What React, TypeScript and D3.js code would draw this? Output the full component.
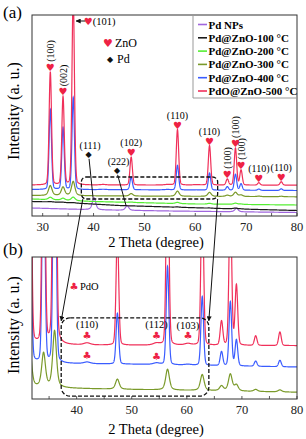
import React from "react";
import * as d3 from "d3";

// ---------------- data ----------------
const zincPeaks = [31.5, 34.0, 36.0, 47.4, 56.5, 62.8, 66.3, 67.9, 69.0, 72.5, 76.9];
const zincLabels = ["(100)", "(002)", "(101)", "(102)", "(110)", "(110)", "(100)", "(100)", "(100)", "(110)", "(110)"];
const pdPeaks = [40.1, 46.6, 68.1];
const pdLabels = ["(111)", "(222)"];
const pdoPeaks = [41.9, 54.5, 60.2];
const pdoLabels = ["(110)", "(112)", "(103)"];
const pdoOnBlue = [true, true, false];

const seriesNames = ["Pd NPs", "Pd@ZnO-100 °C", "Pd@ZnO-200 °C", "Pd@ZnO-300 °C", "Pd@ZnO-400 °C", "PdO@ZnO-500 °C"];

// peak heights above baseline (intensity units) at zincPeaks
const zinc500 = [113, 88, 190, 28, 55.5, 39.5, 6, 37, 15, 2.4, 3.4];
const zinc400 = [80, 62, 92, 12.7, 24.6, 17.2, 3.5, 16, 6.5, 1.3, 1.6];
const zinc300 = [10, 8.5, 14.2, 2.5, 5.2, 4, 1.2, 4.2, 1.5, 0.5, 0.5];
const zinc200 = [2.5, 2, 3.5, 0.4, 1.2, 0.8, 0.2, 1.2, 0.4, 0, 0];
const zinc100 = [0.3, 0.3, 0.4, 0, 0.3, 0.2, 0, 0.8, 0.2, 0, 0];
const pdNPs = [12, 4.5, 3.5];
const pdo500 = [0.5, 0.5, 0.4];
const pdo400 = [0.4, 0.4, 0.2];

// baselines: [2θ, intensity]
const base500 = [[27.9, 31], [80, 30.85]];
const base400 = [[27.9, 26.5], [50, 26.2], [80, 25.5]];
const base300 = [[27.9, 20.5], [45, 20], [80, 19.2]];
const base200 = [[27.9, 17], [40, 14.5], [60, 12], [80, 11]];
const base100 = [[27.9, 14.5], [32, 14], [38, 12.5], [45, 10.5], [55, 9], [65, 7.5], [80, 5.5]];
const basePd = [[27.9, 8], [40, 6.2], [55, 5], [80, 3.5]];

const xTicks = [30, 40, 50, 60, 70, 80];
const xTicksB = [40, 50, 60, 70, 80];

// ---------------- styles ----------------
const colors = ["#a066dd", "#1a1a1a", "#55ee33", "#7a9a2a", "#3a5cff", "#f0305a"];
const serif = "'Liberation Serif', 'Times New Roman', serif";
const sym = "'DejaVu Sans', sans-serif";
const heartColor = "#ee2244";

type Group = { pos: number[]; h: number[]; gamma: number; eta: number };
type Series = { name: string; color: string; base: number[][]; groups: Group[] };

const series: Series[] = [
  { name: seriesNames[0], color: colors[0], base: basePd, groups: [{ pos: pdPeaks, h: pdNPs, gamma: 0.4, eta: 0.5 }] },
  { name: seriesNames[1], color: colors[1], base: base100, groups: [{ pos: zincPeaks, h: zinc100, gamma: 0.5, eta: 0.5 }] },
  { name: seriesNames[2], color: colors[2], base: base200, groups: [{ pos: zincPeaks, h: zinc200, gamma: 0.45, eta: 0.5 }] },
  { name: seriesNames[3], color: colors[3], base: base300, groups: [{ pos: zincPeaks, h: zinc300, gamma: 0.4, eta: 0.5 }] },
  {
    name: seriesNames[4], color: colors[4], base: base400,
    groups: [
      { pos: zincPeaks, h: zinc400, gamma: 0.28, eta: 0.15 },
      { pos: pdoPeaks, h: pdo400, gamma: 0.7, eta: 0.5 },
    ],
  },
  {
    name: seriesNames[5], color: colors[5], base: base500,
    groups: [
      { pos: zincPeaks, h: zinc500, gamma: 0.28, eta: 0.15 },
      { pos: pdoPeaks, h: pdo500, gamma: 0.7, eta: 0.5 },
    ],
  },
];

function pv(d: number, g: number, eta: number) {
  const r = (d / g) * (d / g);
  return eta / (1 + r) + (1 - eta) * Math.exp(-Math.LN2 * r);
}

function valueAt(s: Series, t: number) {
  const bl = d3.scaleLinear().domain(s.base.map((k) => k[0])).range(s.base.map((k) => k[1]));
  let v = bl(t);
  s.groups.forEach((g) => g.pos.forEach((p, i) => (v += g.h[i] * pv(t - p, g.gamma, g.eta))));
  return v;
}

const grid = d3.range(27.9, 80.0001, 0.02);

export default function App() {
  const xA = d3.scaleLinear().domain([27.9, 80]).range([32, 297]);
  const yA = d3.scaleLinear().domain([0, 201]).range([216, 15]);
  const xB = d3.scaleLinear().domain([31.9, 80]).range([32, 297]);
  const yB = d3.scaleLinear().domain([17.5, 53]).range([399, 257]);

  const curves = series.map((s) => grid.map((t) => [t, valueAt(s, t)] as [number, number]));
  const lineA = d3.line<[number, number]>().x((d) => xA(d[0])).y((d) => yA(d[1]));
  const lineB = d3.line<[number, number]>().x((d) => xB(d[0])).y((d) => yB(d[1]));

  const red = series[5];
  const blue = series[4];
  const violet = series[0];

  // dashed zoom boxes (2θ range, intensity range)
  const boxA = { t: [37.6, 64.4], i: [17, 39] };
  const boxB = { t: [37.2, 64.0], i: [18.2, 37.8] };

  const aL = xA(boxA.t[0]), aR = xA(boxA.t[1]), aT = yA(boxA.i[1]), aBt = yA(boxA.i[0]);
  const bL = xB(boxB.t[0]), bR = xB(boxB.t[1]), bT = yB(boxB.i[1]), bBt = yB(boxB.i[0]);

  const vertical = [0, 1, 6, 7, 8];

  return (
    <svg width={306} height={439} style={{ position: "absolute", left: 0, top: 0, background: "#fff" }}>
      <defs>
        <clipPath id="clipA"><rect x={32} y={15} width={265} height={201} /></clipPath>
        <clipPath id="clipB"><rect x={32} y={257} width={265} height={142} /></clipPath>
        <marker id="arr" viewBox="0 0 10 10" refX="9" refY="5" markerWidth="5" markerHeight="5" orient="auto">
          <path d="M0,0 L10,5 L0,10 z" fill="#111" />
        </marker>
      </defs>

      {/* ---------- Panel (a) ---------- */}
      <text x={3} y={18} fontFamily={serif} fontSize={17}>(a)</text>
      <g clipPath="url(#clipA)">
        {curves.map((c, i) => (
          <path key={i} d={lineA(c) || ""} fill="none" stroke={series[i].color} strokeWidth={1.2} />
        ))}
      </g>
      <rect x={32} y={15} width={265} height={201} fill="none" stroke="#333" strokeWidth={1} />
      {d3.range(30, 80.1, 5).map((t) => (
        <line key={t} x1={xA(t)} x2={xA(t)} y1={216} y2={213} stroke="#333" strokeWidth={0.8} />
      ))}
      {xTicks.map((t) => (
        <text key={t} x={xA(t)} y={230.5} textAnchor="middle" fontFamily={serif} fontSize={12.5} fill="#222">{t}</text>
      ))}
      <text x={156} y={247} textAnchor="middle" fontFamily={serif} fontSize={14.5}>2 Theta (degree)</text>
      <text transform="translate(19,111) rotate(-90)" textAnchor="middle" fontFamily={serif} fontSize={16}>Intensity (a. u.)</text>

      {/* legend */}
      <path d={`M193,15 V98 H297`} fill="none" stroke="#999" strokeWidth={1} />
      {series.map((s, i) => (
        <g key={i} transform={`translate(0,${24.5 + i * 13.3})`}>
          <line x1={198} x2={207} y1={0} y2={0} stroke={s.color} strokeWidth={1.6} />
          <text x={208.5} y={4} fontFamily={serif} fontWeight="bold" fontSize={11}>{s.name}</text>
        </g>
      ))}

      {/* phase key */}
      <text x={108} y={43} textAnchor="middle" dominantBaseline="central" fontFamily={sym} fontSize={11} fill={heartColor}>♥</text>
      <text x={115} y={47} fontFamily={serif} fontSize={12}>ZnO</text>
      <text x={110} y={59} textAnchor="middle" dominantBaseline="central" fontFamily={sym} fontSize={8} fill="#111">◆</text>
      <text x={117} y={63} fontFamily={serif} fontSize={12}>Pd</text>

      {/* ZnO peak labels */}
      {zincPeaks.map((p, i) => {
        const px = xA(p);
        if (i === 2) {
          return (
            <g key={i}>
              <line x1={px + 12} x2={px + 3} y1={21} y2={21} stroke="#111" strokeWidth={1} markerEnd="url(#arr)" />
              <text x={px + 15} y={21} textAnchor="middle" dominantBaseline="central" fontFamily={sym} fontSize={10} fill={heartColor}>♥</text>
              <text x={px + 19.5} y={25} fontFamily={serif} fontSize={10.5}>{zincLabels[i]}</text>
            </g>
          );
        }
        const hy = yA(valueAt(red, p)) - 4.5;
        return (
          <g key={i}>
            <text x={px} y={hy} textAnchor="middle" dominantBaseline="central" fontFamily={sym} fontSize={10} fill={heartColor}>♥</text>
            {vertical.includes(i) ? (
              <text transform={`translate(${px + 3.5},${hy - 5.5}) rotate(-90)`} fontFamily={serif} fontSize={10}>{zincLabels[i]}</text>
            ) : (
              <text x={px} y={hy - 6.5} textAnchor="middle" fontFamily={serif} fontSize={10}>{zincLabels[i]}</text>
            )}
          </g>
        );
      })}

      {/* Pd peak labels */}
      {pdLabels.map((lab, i) => {
        const px = xA(pdPeaks[i]);
        const py = yA(valueAt(violet, pdPeaks[i]));
        const dx = i === 0 ? -5.5 : -10;
        const dy = i === 0 ? -43 : -35;
        return (
          <g key={i}>
            <text x={px + dx + 1.5} y={py + dy - 6} textAnchor="middle" fontFamily={serif} fontSize={10}>{lab}</text>
            <text x={px + dx} y={py + dy} textAnchor="middle" dominantBaseline="central" fontFamily={sym} fontSize={8} fill="#111">◆</text>
            <line x1={px + dx + 0.5} y1={py + dy + 4} x2={px - 1} y2={py} stroke="#111" strokeWidth={1} />
          </g>
        );
      })}

      {/* dashed box in (a) */}
      <rect x={aL} y={aT} width={aR - aL} height={aBt - aT} rx={5} fill="none" stroke="#111" strokeWidth={1.3} strokeDasharray="4,2" />

      {/* ---------- Panel (b) ---------- */}
      <text x={3} y={255} fontFamily={serif} fontSize={17}>(b)</text>
      <g clipPath="url(#clipB)">
        {curves.slice(3).map((c, i) => (
          <path key={i} d={lineB(c.filter((d) => d[0] >= 31.5)) || ""} fill="none" stroke={series[i + 3].color} strokeWidth={1.2} />
        ))}
      </g>
      <rect x={32} y={257} width={265} height={142} fill="none" stroke="#333" strokeWidth={1} />
      {d3.range(35, 80.1, 5).map((t) => (
        <line key={t} x1={xB(t)} x2={xB(t)} y1={399} y2={396} stroke="#333" strokeWidth={0.8} />
      ))}
      {xTicksB.map((t) => (
        <text key={t} x={xB(t)} y={414} textAnchor="middle" fontFamily={serif} fontSize={12.5} fill="#222">{t}</text>
      ))}
      <text x={156} y={434} textAnchor="middle" fontFamily={serif} fontSize={14.5}>2 Theta (degree)</text>
      <text transform="translate(19,325) rotate(-90)" textAnchor="middle" fontFamily={serif} fontSize={16}>Intensity (a. u.)</text>

      <text x={74} y={286} textAnchor="middle" dominantBaseline="central" fontFamily={sym} fontSize={10} fill={heartColor}>♣</text>
      <text x={80} y={289.5} fontFamily={serif} fontSize={10.5}>PdO</text>

      {pdoPeaks.map((p, i) => {
        const px = xB(p);
        const ry = yB(valueAt(red, p)) - 7.5;
        const by = yB(valueAt(blue, p)) - 6;
        return (
          <g key={i}>
            <text x={px} y={ry - 7} textAnchor="middle" fontFamily={serif} fontSize={10.5}>{pdoLabels[i]}</text>
            <text x={px} y={ry} textAnchor="middle" dominantBaseline="central" fontFamily={sym} fontSize={10} fill={heartColor}>♣</text>
            {pdoOnBlue[i] && (
              <text x={px} y={by} textAnchor="middle" dominantBaseline="central" fontFamily={sym} fontSize={10} fill={heartColor}>♣</text>
            )}
          </g>
        );
      })}

      {/* dashed box in (b) */}
      <rect x={bL} y={bT} width={bR - bL} height={bBt - bT} rx={9} fill="none" stroke="#111" strokeWidth={1.3} strokeDasharray="4,2" />

      {/* connectors */}
      <line x1={aL + 1.5} y1={aBt} x2={bL} y2={bT + 3} stroke="#111" strokeWidth={1} markerEnd="url(#arr)" />
      <line x1={aR} y1={aBt} x2={bR} y2={bT + 3} stroke="#111" strokeWidth={1} markerEnd="url(#arr)" />
    </svg>
  );
}
